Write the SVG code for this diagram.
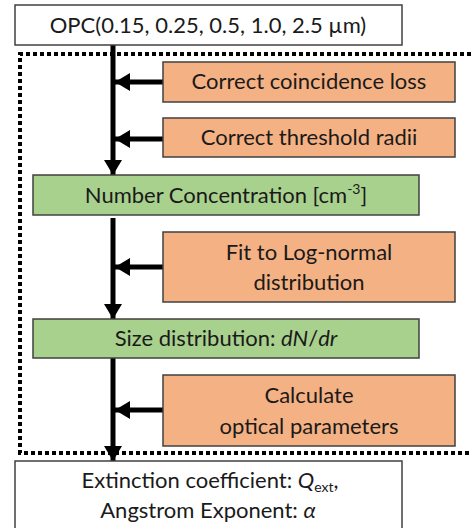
<svg xmlns="http://www.w3.org/2000/svg" width="471" height="528" viewBox="0 0 471 528">
<defs>
<style>
.t{font-family:Lato,"Open Sans","DejaVu Sans",sans-serif;font-size:22px;fill:#1a1a1a;text-anchor:middle}
.w{fill:#ffffff;stroke:#404040;stroke-width:1.5}
.o{fill:#F4B183;stroke:#404040;stroke-width:1.5}
.g{fill:#A9D18E;stroke:#404040;stroke-width:1.5}
.c{stroke:#000;stroke-width:5;fill:none}
.d{stroke:#000;stroke-width:4;fill:none;stroke-dasharray:4 3}
</style>
<marker id="ah" markerUnits="userSpaceOnUse" markerWidth="16" markerHeight="18" refX="15" refY="9" orient="auto" viewBox="0 0 16 18">
<path d="M0,0 L15,9 L0,18 Z" fill="#000"/>
</marker>
</defs>
<rect width="471" height="528" fill="#fff"/>
<g id="frame">
<path class="d" d="M471,54 H20 V453 H471"/>
</g>
<g id="connectors">
<path class="c" d="M113,45 V175" marker-end="url(#ah)"/>
<path class="c" d="M113,218 V319" marker-end="url(#ah)"/>
<path class="c" d="M113,358 V461" marker-end="url(#ah)"/>
<path class="c" d="M163,82 H115" marker-end="url(#ah)"/>
<path class="c" d="M163,139 H115" marker-end="url(#ah)"/>
<path class="c" d="M163,267 H115" marker-end="url(#ah)"/>
<path class="c" d="M163,410 H115" marker-end="url(#ah)"/>
</g>
<g id="opc">
<rect class="w" x="15" y="5" width="387" height="40"/>
<text class="t" x="208" y="33">OPC(0.15, 0.25, 0.5, 1.0, 2.5 µm)</text>
</g>
<g id="coincidence">
<rect class="o" x="163" y="62" width="292" height="40"/>
<text class="t" x="309" y="89">Correct coincidence loss</text>
</g>
<g id="threshold">
<rect class="o" x="163" y="118" width="292" height="39"/>
<text class="t" x="309" y="145">Correct threshold radii</text>
</g>
<g id="number">
<rect class="g" x="33" y="175" width="386" height="40"/>
<text class="t" x="226" y="203">Number Concentration [cm<tspan font-size="14" dy="-9">-3</tspan><tspan dy="9">]</tspan></text>
</g>
<g id="fit">
<rect class="o" x="163" y="232" width="292" height="70"/>
<text class="t" x="309" y="260">Fit to Log-normal</text>
<text class="t" x="309" y="290">distribution</text>
</g>
<g id="size">
<rect class="g" x="33" y="319" width="386" height="39"/>
<text class="t" x="226" y="346">Size distribution: <tspan font-style="italic">dN</tspan>/<tspan font-style="italic">dr</tspan></text>
</g>
<g id="calc">
<rect class="o" x="163" y="375" width="292" height="71"/>
<text class="t" x="309" y="403">Calculate</text>
<text class="t" x="309" y="434">optical parameters</text>
</g>
<g id="result">
<rect class="w" x="15" y="461" width="387" height="80"/>
<text class="t" x="210" y="488">Extinction coefficient: <tspan font-style="italic">Q</tspan><tspan font-size="14" dy="4">ext</tspan><tspan dy="-4">,</tspan></text>
<text class="t" x="208" y="518">Angstrom Exponent: <tspan font-style="italic">α</tspan></text>
</g>
</svg>
